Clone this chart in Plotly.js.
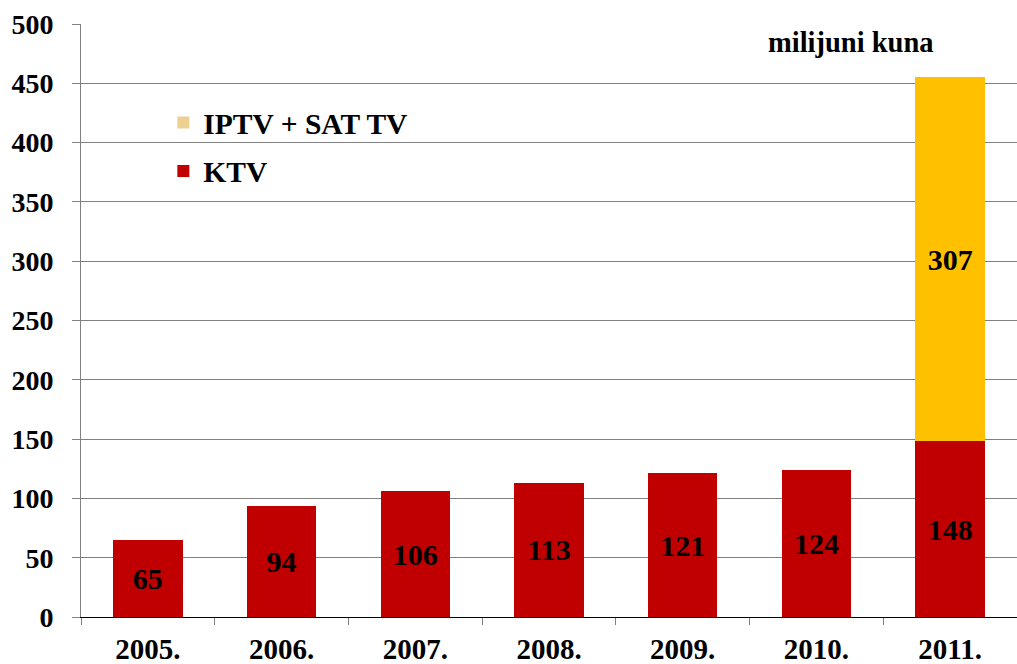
<!DOCTYPE html>
<html>
<head>
<meta charset="utf-8">
<script src="https://cdn.plot.ly/plotly-3.0.1.min.js"></script>
<style>
  html, body { margin: 0; padding: 0; background: #fff; }
  #chart { width: 1017px; height: 664px; }
</style>
</head>
<body>
<div id="chart"></div>
<script>
// TV revenue by year, millions of kuna
const years = ['2005.', '2006.', '2007.', '2008.', '2009.', '2010.', '2011.'];
const ktv = [65, 94, 106, 113, 121, 124, 148];
const iptvSat = [null, null, null, null, null, null, 307];

const FONT = 'Liberation Serif';
const RED = '#C00000', GOLD = '#FFC000', TAN = '#EBD08F';
const bold = (size) => ({ family: FONT, size, color: '#000', weight: 'bold' });

const label = (arr) => arr.map((v) => (v == null ? '' : String(v)));

const traces = [
  {
    type: 'bar', name: 'KTV', x: years, y: ktv, legendgroup: 'a', legendrank: 2,
    marker: { color: RED },
    text: label(ktv), textposition: 'inside', insidetextanchor: 'middle',
    textfont: bold(30), hoverinfo: 'x+y',
  },
  {
    // first swatch colour drives the legend key (tan in the original)
    type: 'bar', name: 'IPTV + SAT TV', x: years, y: iptvSat, legendgroup: 'b', legendrank: 1,
    marker: { color: years.map((_, i) => (i === years.length - 1 ? GOLD : TAN)) },
    text: label(iptvSat), textposition: 'inside', insidetextanchor: 'middle',
    textfont: bold(30), hoverinfo: 'x+y',
  },
];

const layout = {
  width: 1017, height: 664,
  margin: { l: 81, r: 0, t: 24, b: 47 },
  paper_bgcolor: '#fff', plot_bgcolor: '#fff',
  font: { family: FONT, color: '#000' },
  barmode: 'stack', bargap: 0.48,
  showlegend: true,
  legend: {
    x: 0.088, y: 0.877, xanchor: 'left', yanchor: 'top',
    traceorder: 'grouped', tracegroupgap: 7,
    font: bold(29.5), bgcolor: 'rgba(0,0,0,0)',
  },
  xaxis: {
    type: 'category', tickson: 'boundaries', ticks: 'outside', ticklen: 7,
    tickcolor: '#808080', showline: true, linecolor: '#000', linewidth: 1,
    tickfont: bold(29), ticklabelstandoff: 6,
  },
  yaxis: {
    range: [0, 500], dtick: 50, ticks: 'outside', ticklen: 8, tickcolor: '#808080',
    showline: true, linecolor: '#808080', linewidth: 1,
    showgrid: true, gridcolor: '#808080', gridwidth: 1, zeroline: false,
    tickfont: bold(28), ticklabelstandoff: 13,
  },
  annotations: [{
    xref: 'paper', yref: 'paper', x: 0.823, y: 0.968, xanchor: 'center', yanchor: 'middle',
    text: 'milijuni kuna', showarrow: false,
    font: bold(28.5),
  }],
};

Plotly.newPlot('chart', traces, layout, { staticPlot: true, displayModeBar: false });
</script>
</body>
</html>
